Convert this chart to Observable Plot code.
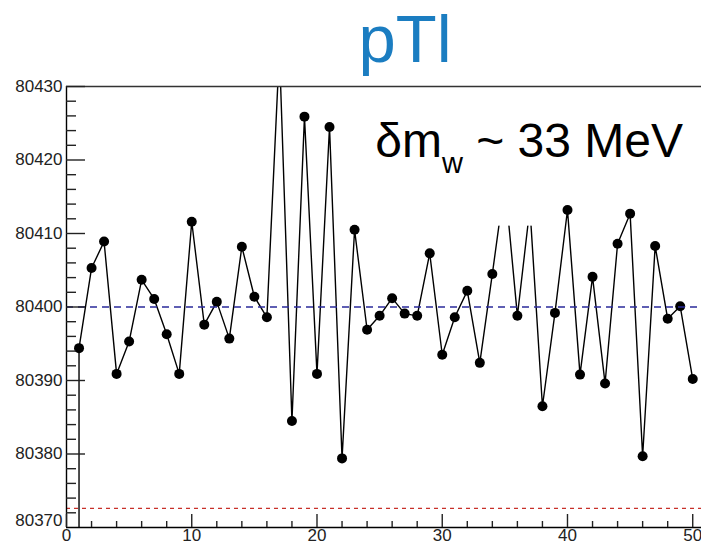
<!DOCTYPE html>
<html><head><meta charset="utf-8">
<script src="https://cdn.jsdelivr.net/npm/d3@7"></script>
<script src="https://cdn.jsdelivr.net/npm/@observablehq/plot@0.6"></script>
<style>
body{margin:0;background:#fff;}
#wrap{position:relative;width:701px;height:544px;overflow:hidden;font-family:"Liberation Sans",Arial,sans-serif;}
#title{position:absolute;left:255px;top:6px;width:300px;text-align:center;color:#1b7dc1;font-size:67px;line-height:66px;z-index:2;}
#chart{position:absolute;left:0;top:0;}
</style></head>
<body><div id="wrap"><div id="title">pTl</div><div id="chart"></div></div>
<script>
// measured W mass per pseudo-experiment (run index 1..50)
const runIndex = [1,2,3,4,5,6,7,8,9,10,11,12,13,14,15,16,17,18,19,20,21,22,23,24,25,26,27,28,29,30,31,32,33,34,35,36,37,38,39,40,41,42,43,44,45,46,47,48,49,50];
const massValues = [
  80394.4, 80405.3, 80408.9, 80390.9, 80395.3, 80403.7, 80401.1, 80396.3, 80390.9, 80411.6,
  80397.6, 80400.7, 80395.7, 80408.2, 80401.4, 80398.6, 80435.0, 80384.5, 80425.9, 80390.9,
  80424.5, 80379.4, 80410.5, 80396.9, 80398.8, 80401.2, 80399.1, 80398.8, 80407.3, 80393.5,
  80398.6, 80402.2, 80392.4, 80404.5, 80417.0, 80398.8, 80413.5, 80386.5, 80399.2, 80413.2,
  80390.8, 80404.1, 80389.6, 80408.6, 80412.7, 80379.7, 80408.3, 80398.4, 80400.1, 80390.2
];
const referenceMass = [80400];
const lowerLine = [80372.6];
const yDomain = [80370, 80430];
const xDomain = [0, 50.7];
const yMajorTicks = [80380, 80390, 80400, 80410, 80420, 80430];
const yBottomTick = [80370];
const yMinorTicks = [80372,80374,80376,80378,80382,80384,80386,80388,80392,80394,80396,80398,80402,80404,80406,80408,80412,80414,80416,80418,80422,80424,80426,80428];
const xMajorTicks = [0, 10, 20, 30, 40, 50];
const xMinorTicks = [2,4,6,8,12,14,16,18,22,24,26,28,32,34,36,38,42,44,46,48];
const annotationParts = ["δm", "w", " ~ 33 MeV"];
const annotationAt = [{x: 24.65, y: 80420.4}];
const maskBox = [{x1: 30, x2: 38.5, y1: 80411, y2: 80430}];

const data = runIndex.map((x, i) => ({x, y: massValues[i]}));
const annotationText = annotationParts.join("");

const plot = Plot.plot({
  width: 701, height: 544,
  marginTop: 86, marginBottom: 17, marginLeft: 66, marginRight: 0,
  style: {fontFamily: '"Liberation Sans", Arial, sans-serif', fontSize: "17px", color: "#222", background: "transparent", overflow: "visible"},
  x: {domain: xDomain, label: null},
  y: {domain: yDomain, label: null},
  marks: [
    Plot.line(data, {x: "x", y: "y", stroke: "black", strokeWidth: 1.4, clip: true}),
    Plot.ruleX([data[0]], {x: "x", y1: yDomain[0], y2: "y", stroke: "black", strokeWidth: 1.4}),
    Plot.dot(data, {x: "x", y: "y", r: 5, fill: "black", stroke: "none", clip: true}),
    Plot.ruleY(referenceMass, {stroke: "#2a2a9a", strokeWidth: 1.3, strokeDasharray: "7,5"}),
    Plot.ruleY(lowerLine, {stroke: "#c8302a", strokeWidth: 1.3, strokeDasharray: "4,4"}),
    Plot.rect(maskBox, {x1: "x1", x2: "x2", y1: "y1", y2: "y2", fill: "white"}),
    Plot.ruleX([0], {stroke: "black", strokeWidth: 1.4}),
    Plot.ruleY([yDomain[0]], {stroke: "black", strokeWidth: 1.4}),
    Plot.ruleY([yDomain[1]], {stroke: "#333", strokeWidth: 1.4}),
    Plot.axisY({ticks: yMajorTicks, tickSize: -19, tickFormat: () => "", strokeWidth: 1.4}),
    Plot.axisY({ticks: yMinorTicks, tickSize: -10, tickFormat: () => "", strokeWidth: 1.4}),
    Plot.axisY({ticks: yMajorTicks, tickSize: 0, tickPadding: 4, tickFormat: d => String(d)}),
    Plot.axisY({ticks: yBottomTick, tickSize: 0, tickPadding: 4, dy: -7, tickFormat: d => String(d)}),
    Plot.axisX({ticks: xMajorTicks, tickSize: -13, tickFormat: () => "", strokeWidth: 1.4}),
    Plot.axisX({ticks: xMinorTicks, tickSize: -6, tickFormat: () => "", strokeWidth: 1.4}),
    Plot.axisX({ticks: xMajorTicks, tickSize: 0, tickPadding: 1, tickFormat: d => String(d)}),
    Plot.text(annotationAt, {x: "x", y: "y", text: () => annotationText, textAnchor: "start", lineAnchor: "bottom", fontSize: 48, fill: "black"})
  ]
});
document.getElementById("chart").appendChild(plot);

// subscript formatting for the annotation
const t = Array.from(plot.querySelectorAll("text")).find(el => el.textContent === annotationText);
if (t) {
  while (t.firstChild) t.removeChild(t.firstChild);
  const ns = "http://www.w3.org/2000/svg";
  const s1 = document.createElementNS(ns, "tspan"); s1.textContent = annotationParts[0];
  const s2 = document.createElementNS(ns, "tspan"); s2.textContent = annotationParts[1];
  s2.setAttribute("font-size", "29"); s2.setAttribute("dy", "16");
  const s3 = document.createElementNS(ns, "tspan"); s3.textContent = annotationParts[2];
  s3.setAttribute("font-size", "48"); s3.setAttribute("dy", "-16");
  t.append(s1, s2, s3);
}
</script>
</body></html>
